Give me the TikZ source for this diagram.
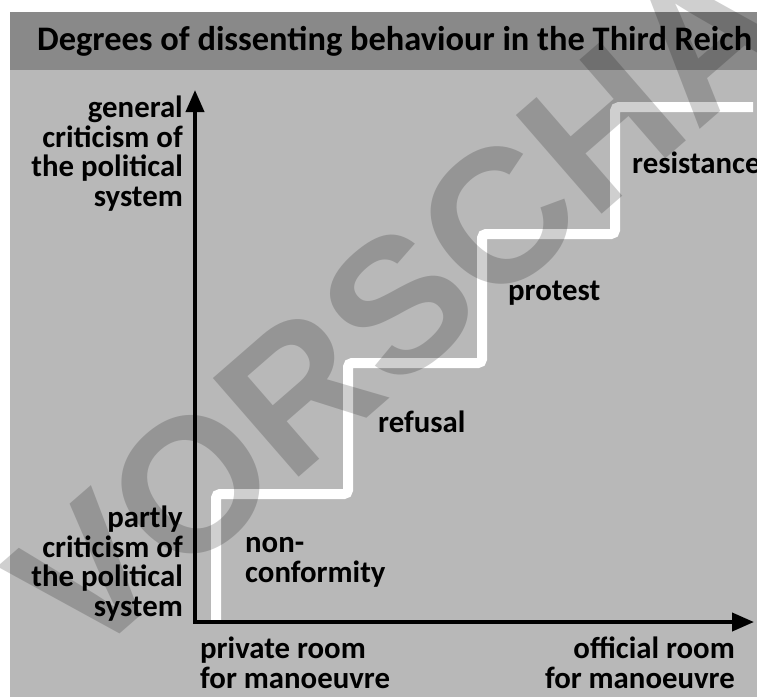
\documentclass[tikz,border=0pt]{standalone}
\usepackage{fontspec}
\setmainfont{Carlito}
\newfontfamily\wmfont{Liberation Sans}
\usetikzlibrary{arrows.meta}
\definecolor{bggray}{HTML}{B8B8B8}
\definecolor{titlegray}{HTML}{898989}
\tikzset{
  lbl/.style={inner sep=0pt, font=\fontsize{30.8}{29.5}\selectfont\bfseries, text=black},
  axisline/.style={line width=4pt, line join=miter, {Triangle[length=22pt,width=18pt]}-{Triangle[length=22pt,width=18pt]}},
  stairline/.style={white, line width=10pt, rounded corners=4pt},
  watermark/.style={inner sep=0pt, opacity=0.19, text=black, font=\fontsize{190}{190}\selectfont\wmfont\bfseries, rotate=41}
}
\begin{document}
\begin{tikzpicture}[x=1pt,y=-1pt]
\useasboundingbox (0,0) rectangle (757,697);
\fill[white] (0,0) rectangle (757,697);
\fill[bggray] (10,70) rectangle (757,697);
\fill[titlegray] (10,12) rectangle (757,70);
\node[lbl, anchor=base west, font=\fontsize{34.4}{40}\selectfont\bfseries] (title) at (37,50) {Degrees of dissenting behaviour in the Third Reich};
% stair
\coordinate (s0) at (216,620);
\coordinate (s1) at (216,494);
\coordinate (s2) at (348,494);
\coordinate (s3) at (348,363);
\coordinate (s4) at (482,363);
\coordinate (s5) at (482,234);
\coordinate (s6) at (615,234);
\coordinate (s7) at (615,107);
\coordinate (s8) at (753,107);
\draw[stairline] (s0) -- (s1) -- (s2) -- (s3) -- (s4) -- (s5) -- (s6) -- (s7) -- (s8);
% axes
\coordinate (ytip) at (195,90);
\coordinate (orig) at (195,622);
\coordinate (xtip) at (754,622);
\draw[axisline] (ytip) -- (orig) -- (xtip);
% labels (base anchor = last line baseline)
\node[lbl, anchor=base east, align=right] (gen) at (183,206) {general\\criticism of\\the political\\system};
\node[lbl, anchor=base east, align=right] (part) at (183,616) {partly\\criticism of\\the political\\system};
\node[lbl, anchor=base west, align=left] (nonc) at (245,582) {non-\\conformity};
\node[lbl, anchor=base west] (refu) at (378,432) {refusal};
\node[lbl, anchor=base west] (prot) at (508,300) {protest};
\node[lbl, anchor=base west] (resi) at (632,173) {resistance};
\node[lbl, anchor=base west, align=left] (priv) at (200,688) {private room\\for manoeuvre};
\node[lbl, anchor=base east, align=right] (offi) at (735,688) {official room\\for manoeuvre};
% watermark
\node[watermark] (wm) at (450,260) {VORSCHAU};
\end{tikzpicture}
\end{document}
